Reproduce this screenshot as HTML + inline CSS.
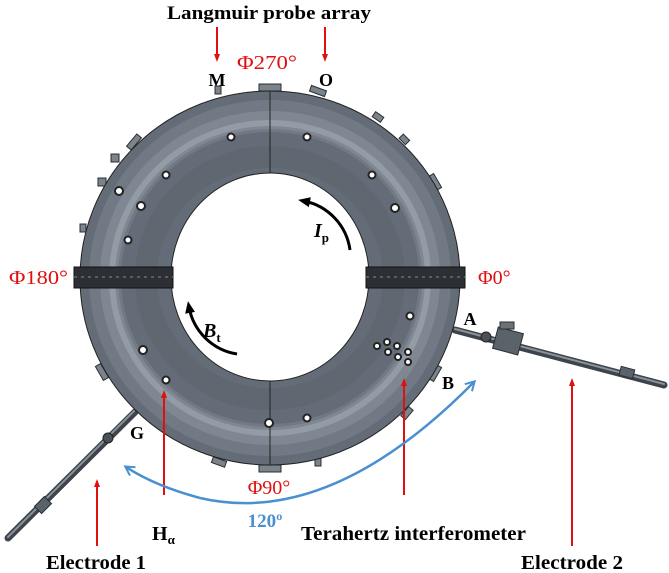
<!DOCTYPE html>
<html><head><meta charset="utf-8"><style>
html,body{margin:0;padding:0;background:#fff;}
svg{display:block}
.t{font-family:"Liberation Serif",serif;font-weight:bold;}
</style></head><body>
<svg width="669" height="573" viewBox="0 0 669 573" xmlns="http://www.w3.org/2000/svg">
<defs>
<marker id="ra" markerWidth="8" markerHeight="8" refX="4" refY="4" orient="auto" markerUnits="userSpaceOnUse"><path d="M0,1 L8,4 L0,7 Z" fill="#e01010"/></marker>
<marker id="ba" markerWidth="12" markerHeight="12" refX="9" refY="6" orient="auto" markerUnits="userSpaceOnUse"><path d="M1,1 L10,6 L1,11" fill="none" stroke="#4a90d0" stroke-width="2"/></marker>
<marker id="ka" markerWidth="12" markerHeight="12" refX="6" refY="6" orient="auto" markerUnits="userSpaceOnUse"><path d="M0,1 L12,6 L0,11 Z" fill="#000"/></marker>
</defs>

<!-- electrode rods -->
<g stroke="#3e444b" stroke-linecap="round">
<line x1="455" y1="330" x2="664" y2="385" stroke-width="7"/>
<line x1="135" y1="412" x2="8" y2="538" stroke-width="7"/>
</g>
<g stroke="#8a929a" stroke-linecap="round">
<line x1="455" y1="329" x2="664" y2="384" stroke-width="2"/>
<line x1="134" y1="411" x2="8" y2="537" stroke-width="2"/>
</g>
<rect x="495" y="330" width="26" height="22" fill="#5a626a" stroke="#2a2e33" transform="rotate(15 508 341)"/>
<rect x="500" y="322" width="14" height="7" fill="#6a7278" stroke="#2a2e33"/>
<circle cx="486" cy="337" r="5" fill="#4a5057" stroke="#222"/>
<circle cx="108" cy="438" r="5" fill="#4a5057" stroke="#222"/>
<rect x="38" y="498" width="10" height="14" fill="#5a626a" stroke="#2a2e33" transform="rotate(45 43 505)"/>
<rect x="620" y="368" width="14" height="9" fill="#5a626a" stroke="#2a2e33" transform="rotate(15 627 372)"/>

<!-- flanges (behind body edge) -->
<g fill="#7b838b" stroke="#2a2e33">
<rect x="259" y="84" width="22" height="7"/>
<rect x="259" y="465" width="22" height="7"/>
<rect x="310" y="88" width="16" height="6" transform="rotate(20 318 91)"/>
<rect x="215" y="86" width="6" height="8"/>
<rect x="373" y="114" width="10" height="6" transform="rotate(35 378 117)"/>
<rect x="400" y="136" width="9" height="6" transform="rotate(45 404 139)"/>
<rect x="432" y="174" width="6" height="16" transform="rotate(-30 435 182)"/>
<rect x="131" y="134" width="6" height="16" transform="rotate(40 134 142)"/>
<rect x="111" y="154" width="8" height="8"/>
<rect x="98" y="178" width="8" height="8"/>
<rect x="80" y="224" width="6" height="8"/>
<rect x="99" y="364" width="6" height="16" transform="rotate(-30 102 372)"/>
<rect x="432" y="365" width="6" height="16" transform="rotate(30 435 373)"/>
<rect x="404" y="407" width="6" height="12" transform="rotate(40 407 413)"/>
<rect x="212" y="459" width="14" height="6" transform="rotate(20 219 462)"/>
<rect x="315" y="458" width="6" height="8"/>
</g>

<!-- torus body -->
<ellipse cx="270" cy="278" rx="190" ry="187" fill="#646d77" stroke="#222" stroke-width="1"/>
<ellipse cx="270" cy="278" rx="165" ry="162" fill="none" stroke="#717a84" stroke-width="32"/>
<ellipse cx="270" cy="278" rx="161" ry="158" fill="none" stroke="#7f8892" stroke-width="18"/>
<ellipse cx="270" cy="278" rx="158" ry="155" fill="none" stroke="#939ca5" stroke-width="6"/>
<ellipse cx="270" cy="278" rx="124" ry="121" fill="none" stroke="#5f6770" stroke-width="22"/>
<ellipse cx="270" cy="277" rx="99" ry="104" fill="#fff" stroke="#222" stroke-width="1"/>
<line x1="270" y1="91" x2="270" y2="173" stroke="#222"/>
<line x1="270" y1="381" x2="270" y2="465" stroke="#222"/>

<!-- ports -->
<g fill="#fff" stroke="#222" stroke-width="2">
<circle cx="231" cy="137" r="3.5"/><circle cx="307" cy="137" r="3.5"/>
<circle cx="166" cy="175" r="3.5"/><circle cx="372" cy="175" r="3.5"/>
<circle cx="119" cy="191" r="4"/><circle cx="141" cy="206" r="4"/>
<circle cx="395" cy="208" r="4"/><circle cx="128" cy="240" r="3.5"/>
<circle cx="143" cy="350" r="4"/><circle cx="166" cy="380" r="3.5"/>
<circle cx="269" cy="423" r="4"/><circle cx="307" cy="418" r="3.5"/>
<circle cx="410" cy="316" r="3.5"/>
<circle cx="377" cy="346" r="3"/><circle cx="387" cy="342" r="3"/><circle cx="397" cy="346" r="3"/>
<circle cx="388" cy="352" r="3"/><circle cx="398" cy="357" r="3"/><circle cx="408" cy="352" r="3"/><circle cx="408" cy="362" r="3"/>
</g>
<!-- bands -->
<g fill="#2c3035" stroke="#111">
<rect x="74" y="267" width="99" height="21"/>
<rect x="366" y="267" width="99" height="21"/>
</g>
<g stroke="#888" stroke-width="1">
<line x1="74" y1="277" x2="173" y2="277" stroke-dasharray="3,4"/>
<line x1="366" y1="277" x2="465" y2="277" stroke-dasharray="3,4"/>
</g>

<!-- Ip / Bt arrows -->
<path d="M350,250 A58,58 0 0 0 304,201" fill="none" stroke="#000" stroke-width="3" marker-end="url(#ka)"/>
<path d="M237,354 A58,58 0 0 1 189,307" fill="none" stroke="#000" stroke-width="3" marker-end="url(#ka)"/>

<!-- red arrows -->
<g stroke="#e01010" stroke-width="2" marker-end="url(#ra)">
<line x1="217" y1="27" x2="217" y2="58"/>
<line x1="325" y1="27" x2="325" y2="58"/>
<line x1="97" y1="546" x2="97" y2="483"/>
<line x1="164" y1="495" x2="164" y2="394"/>
<line x1="404" y1="495" x2="404" y2="382"/>
<line x1="572" y1="546" x2="572" y2="382"/>
</g>
<!-- blue arc -->
<path d="M200,498 Q330,528 474,382" fill="none" stroke="#4a90d0" stroke-width="2.5" marker-end="url(#ba)"/>
<path d="M200,498 Q155,486 126,467" fill="none" stroke="#4a90d0" stroke-width="2.5" marker-end="url(#ba)"/>

<!-- text -->
<text x="167" y="19" class="t" font-size="19" textLength="204" lengthAdjust="spacingAndGlyphs">Langmuir probe array</text>
<text x="217" y="86" class="t" font-size="18" text-anchor="middle">M</text>
<text x="326" y="86" class="t" font-size="18" text-anchor="middle">O</text>
<g font-family="Liberation Serif,serif" fill="#e01010" font-size="20">
<text x="237" y="69" textLength="60" lengthAdjust="spacingAndGlyphs">Φ270°</text>
<text x="9" y="284" textLength="59" lengthAdjust="spacingAndGlyphs">Φ180°</text>
<text x="478" y="284">Φ0°</text>
<text x="269" y="494" text-anchor="middle">Φ90°</text>
</g>
<text x="265" y="527" class="t" font-size="19" fill="#4a90d0" text-anchor="middle">120º</text>
<text x="470" y="325" class="t" font-size="18" text-anchor="middle">A</text>
<text x="448" y="389" class="t" font-size="18" text-anchor="middle">B</text>
<text x="137" y="439" class="t" font-size="18" text-anchor="middle">G</text>
<text x="314" y="237" class="t" font-size="20" font-style="italic">I<tspan font-size="13" font-style="normal" dy="5">p</tspan></text>
<text x="203" y="337" class="t" font-size="20" font-style="italic">B<tspan font-size="13" font-style="normal" dy="5">t</tspan></text>
<text x="152" y="540" class="t" font-size="20">H<tspan font-size="13" dy="4">α</tspan></text>
<text x="301" y="540" class="t" font-size="20" textLength="225" lengthAdjust="spacingAndGlyphs">Terahertz interferometer</text>
<text x="46" y="569" class="t" font-size="20" textLength="100" lengthAdjust="spacingAndGlyphs">Electrode 1</text>
<text x="521" y="569" class="t" font-size="20" textLength="102" lengthAdjust="spacingAndGlyphs">Electrode 2</text>
</svg>
</body></html>
